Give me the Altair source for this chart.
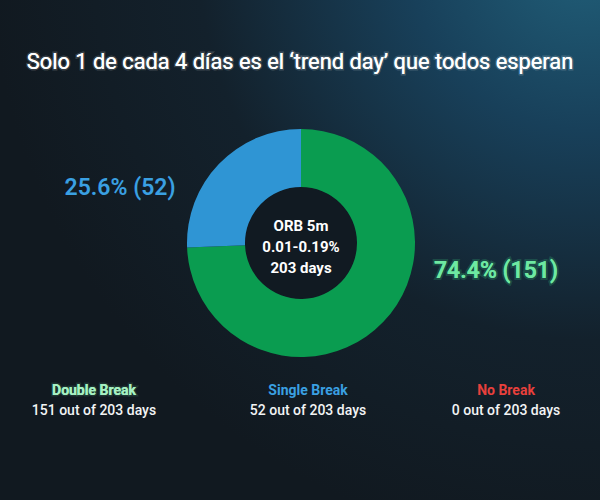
import altair as alt
import pandas as pd

# Outcome categories and counts
categories = ["Double Break", "Single Break", "No Break"]
days = [151, 52, 0]
total_days = 203
pct_text = ["74.4% (151)", "25.6% (52)", "0.0% (0)"]
cat_colors = ["#0a9c50", "#2f95d4", "#e53935"]
head_colors = ["#a6f0c2", "#3aa0e2", "#e8403c"]
pct_colors = ["#6ee8a2", "#3aa0e2", "#e8403c"]
center_lines = ["ORB 5m", "0.01-0.19%", "203 days"]
title_text = "Solo 1 de cada 4 días es el ‘trend day’ que todos esperan"

W, H = 600, 500
CX, CY = 301, 243
FONT = "Roboto"

df = pd.DataFrame({
    "category": categories,
    "days": days,
    "order": list(range(len(categories))),
})
slices = df[df["days"] > 0]

one = pd.DataFrame({"k": [0]})


def label(text, x, y, **style):
    """A single text mark placed at a pixel position."""
    return alt.Chart(one).mark_text(text=text, font=FONT, **style).encode(
        x=alt.value(x), y=alt.value(y)
    )


# Dark teal background, brighter toward the upper right
bg = alt.Chart(one).mark_rect(
    color=alt.Gradient(
        gradient="radial",
        x1=0.98, y1=0.0, r1=0.0,
        x2=0.98, y2=0.0, r2=1.0,
        stops=[
            alt.GradientStop(offset=0.0, color="#21607a"),
            alt.GradientStop(offset=0.3, color="#18405a"),
            alt.GradientStop(offset=0.65, color="#13212c"),
            alt.GradientStop(offset=1.0, color="#111920"),
        ],
    )
).encode(x=alt.value(0), x2=alt.value(W), y=alt.value(0), y2=alt.value(H))

# Inner dark disk of the donut
hole = alt.Chart(one).mark_arc(outerRadius=56, color="#111a22").encode(
    theta=alt.value(6.2832), x=alt.value(CX), y=alt.value(CY)
)

donut = alt.Chart(slices).mark_arc(innerRadius=56, outerRadius=114).encode(
    theta=alt.Theta("days:Q", stack=True),
    order=alt.Order("order:Q"),
    color=alt.Color("category:N", scale=alt.Scale(domain=categories, range=cat_colors), legend=None),
    x=alt.value(CX),
    y=alt.value(CY),
)

layers = [bg, hole, donut]

# Title with a soft glow
layers.append(label(title_text, W / 2, 62, fontSize=21.8, color="#ffffff",
                    stroke="#ffffff", strokeWidth=3, strokeOpacity=0.18))
layers.append(label(title_text, W / 2, 62, fontSize=21.8, color="#ffffff"))

# Centre annotation
for line, y in zip(center_lines, [226, 247, 268]):
    layers.append(label(line, CX, y, fontSize=15, fontWeight="bold", color="#ffffff"))

# Percentage labels beside the donut
pct_pos = {"Double Break": (496, 271), "Single Break": (120, 188)}
for cat, txt, col, d in zip(categories, pct_text, pct_colors, days):
    if d == 0:
        continue
    x, y = pct_pos[cat]
    if cat == "Double Break":
        layers.append(label(txt, x, y, fontSize=23, fontWeight=600, color=col,
                            stroke="#3fe08a", strokeWidth=4, strokeOpacity=0.2))
    layers.append(label(txt, x, y, fontSize=23, fontWeight=600, color=col))

# Bottom summary row
col_x = [94, 308, 506]
for cat, d, col, x in zip(categories, days, head_colors, col_x):
    if cat == "Double Break":
        layers.append(label(cat, x, 391, fontSize=14, fontWeight="bold", color=col,
                            stroke="#7ef0b0", strokeWidth=3, strokeOpacity=0.15))
    layers.append(label(cat, x, 391, fontSize=14, fontWeight="bold", color=col))
    layers.append(label(f"{d} out of {total_days} days", x, 411, fontSize=14,
                        fontWeight=500, color="#f2f4f5"))

chart = alt.layer(*layers).properties(
    width=W, height=H, padding=0, autosize=alt.AutoSizeParams(type="none"),
    background="#111a22",
).configure_view(stroke=None, strokeWidth=0)

chart.save("out.html", embed_options={"renderer": "svg", "actions": False})
